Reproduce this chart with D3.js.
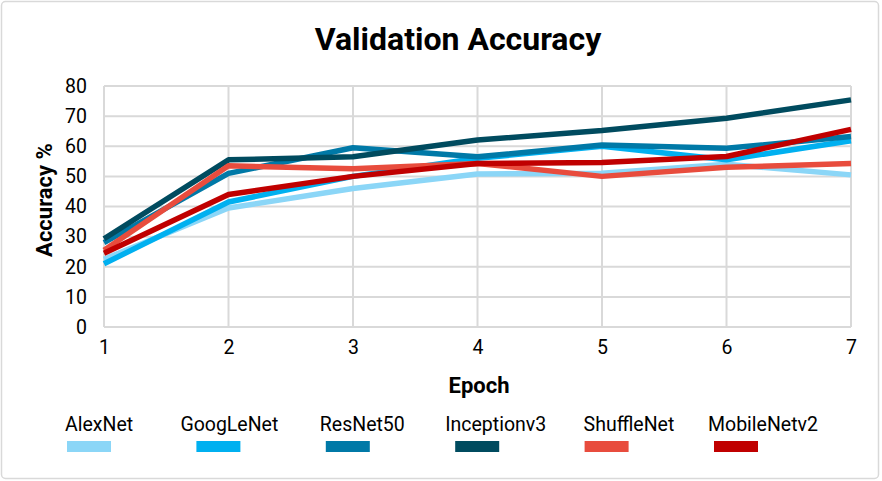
<!DOCTYPE html>
<html><head><meta charset="utf-8">
<script src="https://cdn.jsdelivr.net/npm/d3@7"></script>
<style>body{margin:0;background:#fff;} text{font-family:Roboto, "Noto Sans", sans-serif;}</style>
</head><body>
<svg id="c" width="882" height="481"></svg>
<script>
const epochs = [1,2,3,4,5,6,7];
const seriesNames = ["AlexNet","GoogLeNet","ResNet50","Inceptionv3","ShuffleNet","MobileNetv2"];
const alexNet     = [22.5, 39.5, 46, 50.8, 51, 54, 50.5];
const googLeNet   = [21, 41.5, 50, 56, 60, 55.5, 61.8];
const resNet50    = [28, 51, 59.5, 56.5, 60.4, 59.3, 63.2];
const inceptionv3 = [29.3, 55.5, 56.5, 62.1, 65.2, 69.3, 75.4];
const shuffleNet  = [25.5, 53.5, 52.5, 54.3, 50, 53, 54.3];
const mobileNetv2 = [24.5, 44, 50, 54.3, 54.6, 56.6, 65.6];
const yTicks = [0,10,20,30,40,50,60,70,80];
const colors = ["#8bd6f7","#00b0f0","#0079a7","#004b5f","#e84c3d","#c00000"];
const allValues = [alexNet, googLeNet, resNet50, inceptionv3, shuffleNet, mobileNetv2];

const svg = d3.select("#c");
svg.append("rect").attr("x",1.5).attr("y",1.5).attr("width",877).attr("height",477)
  .attr("rx",4).attr("fill","#fff").attr("stroke","#d9d9d9").attr("stroke-width",1.5);

const x = d3.scaleLinear().domain([1,7]).range([104,851]);
const y = d3.scaleLinear().domain([0,80]).range([327,86]);

// grid
const g = svg.append("g");
g.selectAll(".hg").data(yTicks).join("line")
  .attr("x1",x(1)).attr("x2",x(7)).attr("y1",d=>y(d)).attr("y2",d=>y(d))
  .attr("stroke","#d9d9d9").attr("stroke-width",2);
g.selectAll(".vg").data(epochs).join("line")
  .attr("x1",d=>x(d)).attr("x2",d=>x(d)).attr("y1",y(0)).attr("y2",y(80))
  .attr("stroke","#d9d9d9").attr("stroke-width",2);

// axes labels
const yAxis = d3.axisLeft(y).tickValues(yTicks).tickSize(0).tickPadding(17);
const ya = svg.append("g").attr("transform",`translate(${x(1)},0)`).call(yAxis);
ya.select(".domain").remove();
ya.selectAll("text").attr("font-size",19.5).attr("fill","#000").style("font-family","Roboto");

const xAxis = d3.axisBottom(x).tickValues(epochs).tickFormat(d3.format("d")).tickSize(0).tickPadding(13);
const xa = svg.append("g").attr("transform",`translate(0,${y(0)})`).call(xAxis);
xa.select(".domain").remove();
xa.selectAll("text").attr("font-size",19.5).attr("fill","#000").style("font-family","Roboto");

// lines
const line = d3.line().x((d,i)=>x(epochs[i])).y(d=>y(d));
allValues.forEach((vals,i)=>{
  svg.append("path").datum(vals).attr("d",line).attr("fill","none")
    .attr("stroke",colors[i]).attr("stroke-width",5.5).attr("stroke-linejoin","round");
});

// title
svg.append("text").attr("x",458).attr("y",50).attr("text-anchor","middle")
  .attr("font-size",32).attr("font-weight","bold").text("Validation Accuracy");
svg.append("text").attr("x",479).attr("y",393).attr("text-anchor","middle")
  .attr("font-size",22).attr("font-weight","bold").text("Epoch");
svg.append("text").attr("transform","translate(52,200) rotate(-90)").attr("text-anchor","middle")
  .attr("font-size",22).attr("font-weight","bold").text("Accuracy %");

// legend
const textOffsets = [-2,-16,-6,-10,-1,-6];
seriesNames.forEach((n,i)=>{
  const sx = 67 + i*129.4;
  svg.append("rect").attr("x",sx).attr("y",441).attr("width",44).attr("height",11).attr("fill",colors[i]);
  svg.append("text").attr("x",sx+textOffsets[i]).attr("y",431).attr("font-size",19.5).text(n);
});
</script>
</body></html>
